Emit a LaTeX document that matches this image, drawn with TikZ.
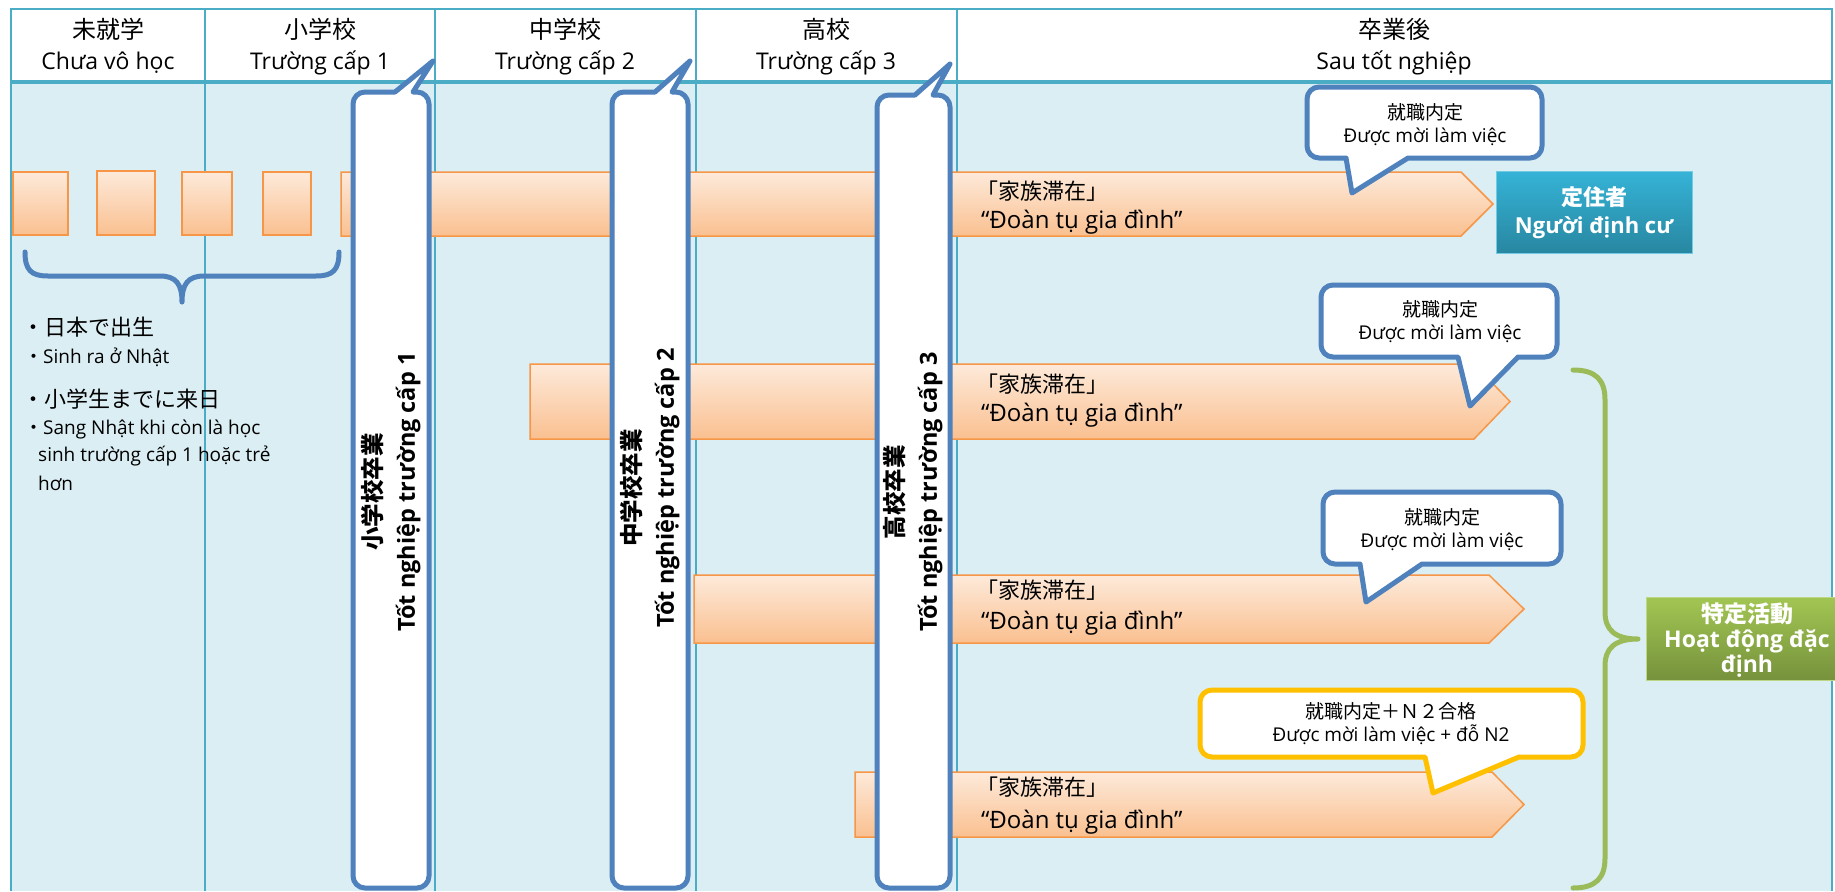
\documentclass[tikz,border=0pt]{standalone}
\usepackage{fontspec}
\setmainfont{Open Sans}
\newfontfamily\jp{Noto Sans CJK JP}
\definecolor{frame}{HTML}{4BACC6}
\definecolor{bodybg}{HTML}{DAEEF3}
\definecolor{orl}{HTML}{FDEADA}
\definecolor{ord}{HTML}{FAC090}
\definecolor{orb}{HTML}{F79646}
\definecolor{bl}{HTML}{4F81BD}
\definecolor{yl}{HTML}{FFC000}
\definecolor{gr}{HTML}{9BBB59}
\definecolor{tealt}{HTML}{35B3D7}
\definecolor{tealb}{HTML}{2887A1}
\definecolor{grt}{HTML}{A2C653}
\definecolor{grb}{HTML}{76923C}
\tikzset{
  orbox/.style={draw=orb, line width=1.5pt, top color=orl, bottom color=ord},
  gradbar/.style={draw=bl, fill=white, line width=5pt, line join=round},
  cbox/.style={draw=bl, fill=white, line width=5pt, line join=round},
  ybox/.style={draw=yl, fill=white, line width=5pt, line join=round},
  hdrjp/.style={font=\jp\fontsize{24}{28}\selectfont, inner sep=0pt},
  hdrvn/.style={font=\fontsize{23}{28}\selectfont, inner sep=0pt},
  gradtxt/.style={rotate=90, align=center, inner sep=0pt, font=\bfseries\fontsize{23.5}{33}\selectfont},
  rowjp/.style={anchor=west, inner sep=0pt, font=\jp\fontsize{22}{26}\selectfont},
  rowvn/.style={anchor=west, inner sep=0pt, font=\fontsize{24}{28}\selectfont},
  ctxt/.style={align=center, inner sep=0pt, font=\fontsize{19}{23}\selectfont},
  boxtxt/.style={align=center, inner sep=0pt, text=white, font=\bfseries\fontsize{22}{28}\selectfont},
  bulletjp/.style={anchor=west, inner sep=0pt, font=\jp\fontsize{22}{26}\selectfont},
  bulletvn/.style={anchor=west, inner sep=0pt, font=\fontsize{19}{23}\selectfont},
  bracebl/.style={draw=bl, line width=5pt, line cap=round, line join=round},
  bracegr/.style={draw=gr, line width=5pt, line cap=round, line join=round}
}
% arrow bar: x0, y0, y1, body end, tip
\newcommand\myarrow[5]{\path[orbox] (#1,#2) -- (#4,#2) -- (#5,{(#2+#3)/2}) -- (#4,#3) -- (#1,#3) -- cycle;}
% graduation bar: L,T,R,B, pointer base x1,x2, tip x,y
\newcommand\mygrad[8]{\path[gradbar] (#6,#2) -- ({#3-12},#2) arc[start angle=270,end angle=360,radius=12] -- (#3,{#4-12}) arc[start angle=0,end angle=90,radius=12] -- ({#1+12},#4) arc[start angle=90,end angle=180,radius=12] -- (#1,{#2+12}) arc[start angle=180,end angle=270,radius=12] -- (#5,#2) -- (#7,#8) -- cycle;}
% callout: style, L,T,R,B, pointer base x1,x2, tip x,y
\newcommand\mycallout[9]{\path[#1] (#7,#5) -- ({#4-12},#5) arc[start angle=90,end angle=0,radius=12] -- (#4,{#3+12}) arc[start angle=0,end angle=-90,radius=12] -- ({#2+12},#3) arc[start angle=270,end angle=180,radius=12] -- (#2,{#5-12}) arc[start angle=180,end angle=90,radius=12] -- (#6,#5) -- (#8,#9) -- cycle;}
\begin{document}
\begin{tikzpicture}[x=1pt,y=-1pt]
\useasboundingbox (0,0) rectangle (1835,891);
\fill[white] (0,0) rectangle (1835,891);
\fill[bodybg] (11,82) rectangle (1832,891);
\foreach \cx in {205,435,696,957} \draw[frame,line width=2pt] (\cx,9) -- (\cx,891);
\draw[frame,line width=2.5pt] (11,891) -- (11,9) -- (1832,9) -- (1832,891);
\draw[frame,line width=4pt] (11,82) -- (1832,82);

% header
\node[hdrjp] (h1a) at (108,29) {未就学};
\node[hdrvn] (h1b) at (108,63) {Chưa vô học};
\node[hdrjp] (h2a) at (320,29) {小学校};
\node[hdrvn] (h2b) at (320,63) {Trường cấp 1};
\node[hdrjp] (h3a) at (565,29) {中学校};
\node[hdrvn] (h3b) at (565,63) {Trường cấp 2};
\node[hdrjp] (h4a) at (826,29) {高校};
\node[hdrvn] (h4b) at (826,63) {Trường cấp 3};
\node[hdrjp] (h5a) at (1394,29) {卒業後};
\node[hdrvn] (h5b) at (1394,63) {Sau tốt nghiệp};

% orange squares and bars
\path[orbox] (13,172) rectangle (68,235);
\path[orbox] (97,171) rectangle (155,235);
\path[orbox] (182,172) rectangle (232,235);
\path[orbox] (263,172) rectangle (311,235);
\myarrow{341}{172}{236}{1461}{1493}
\myarrow{530}{364}{439}{1474}{1510}
\myarrow{694}{575}{643}{1489}{1524}
\myarrow{855}{772}{837}{1492}{1524}

% graduation bars
\mygrad{353}{92}{429}{888}{395}{413}{433}{61}
\mygrad{612}{92}{688}{888}{655}{672}{690}{61}
\mygrad{877}{95}{950}{888}{915}{933}{950}{64}
\node[gradtxt] (g1) at (391,492) {{\jp 小学校卒業}\\Tốt nghiệp trường cấp 1};
\node[gradtxt] (g2) at (650,488) {{\jp 中学校卒業}\\Tốt nghiệp trường cấp 2};
\node[gradtxt] (g3) at (913,492) {{\jp 高校卒業}\\Tốt nghiệp trường cấp 3};

% row texts
\node[rowjp] (r1a) at (976,191) {「家族滞在」};
\node[rowvn] (r1b) at (981,222) {“Đoàn tụ gia đình”};
\node[rowjp] (r2a) at (976,384) {「家族滞在」};
\node[rowvn] (r2b) at (981,415) {“Đoàn tụ gia đình”};
\node[rowjp] (r3a) at (976,590) {「家族滞在」};
\node[rowvn] (r3b) at (981,623) {“Đoàn tụ gia đình”};
\node[rowjp] (r4a) at (976,787) {「家族滞在」};
\node[rowvn] (r4b) at (981,822) {“Đoàn tụ gia đình”};

% callouts
\mycallout{cbox}{1307}{87}{1542}{158}{1346}{1408}{1352}{193}
\node[ctxt] (c1) at (1425,125) {{\jp 就職内定}\\Được mời làm việc};
\mycallout{cbox}{1321}{285}{1557}{357}{1458}{1518}{1470}{406}
\node[ctxt] (c2) at (1440,322) {{\jp 就職内定}\\Được mời làm việc};
\mycallout{cbox}{1323}{492}{1561}{564}{1360}{1422}{1366}{602}
\node[ctxt] (c3) at (1442,530) {{\jp 就職内定}\\Được mời làm việc};
\mycallout{ybox}{1200}{690}{1583}{757}{1425}{1519}{1433}{793}
\node[ctxt] (c4) at (1391,724) {{\jp 就職内定＋Ｎ２合格}\\Được mời làm việc + đỗ N2};

% result boxes
\path[top color=tealt, bottom color=tealb, draw=tealt!70!white, line width=1pt] (1496,171) rectangle (1692,253);
\node[boxtxt] (teal) at (1594,213) {{\jp 定住者}\\Người định cư};
\path[top color=grt, bottom color=grb, draw=grt!70!white, line width=1pt] (1646,597) rectangle (1850,680);
\node[boxtxt, font=\bfseries\fontsize{23}{25}\selectfont] (green) at (1747,640) {{\jp 特定活動}\\Hoạt động đặc\\định};

% braces
\path[bracebl] (25,252) .. controls (25,270) and (31,276) .. (48,276) -- (160,276) .. controls (176,276) and (182,284) .. (182,302) .. controls (182,284) and (188,276) .. (204,276) -- (316,276) .. controls (333,276) and (339,270) .. (339,252);
\path[bracegr] (1573,370) .. controls (1596,370) and (1605,380) .. (1605,400) -- (1605,612) .. controls (1605,630) and (1615,639) .. (1638,639) .. controls (1615,639) and (1605,648) .. (1605,666) -- (1605,858) .. controls (1605,878) and (1596,888) .. (1573,888);

% bullets
\node[bulletjp] (b1) at (22,327) {・日本で出生};
\node[bulletvn] (b2) at (24,357) {{\jp ・}Sinh ra ở Nhật};
\node[bulletjp] (b3) at (22,399) {・小学生までに来日};
\node[bulletvn] (b4) at (24,429) {{\jp ・}Sang Nhật khi còn là học};
\node[bulletvn] (b5) at (38,456) {sinh trường cấp 1 hoặc trẻ};
\node[bulletvn] (b6) at (38,483) {hơn};
\end{tikzpicture}
\end{document}
